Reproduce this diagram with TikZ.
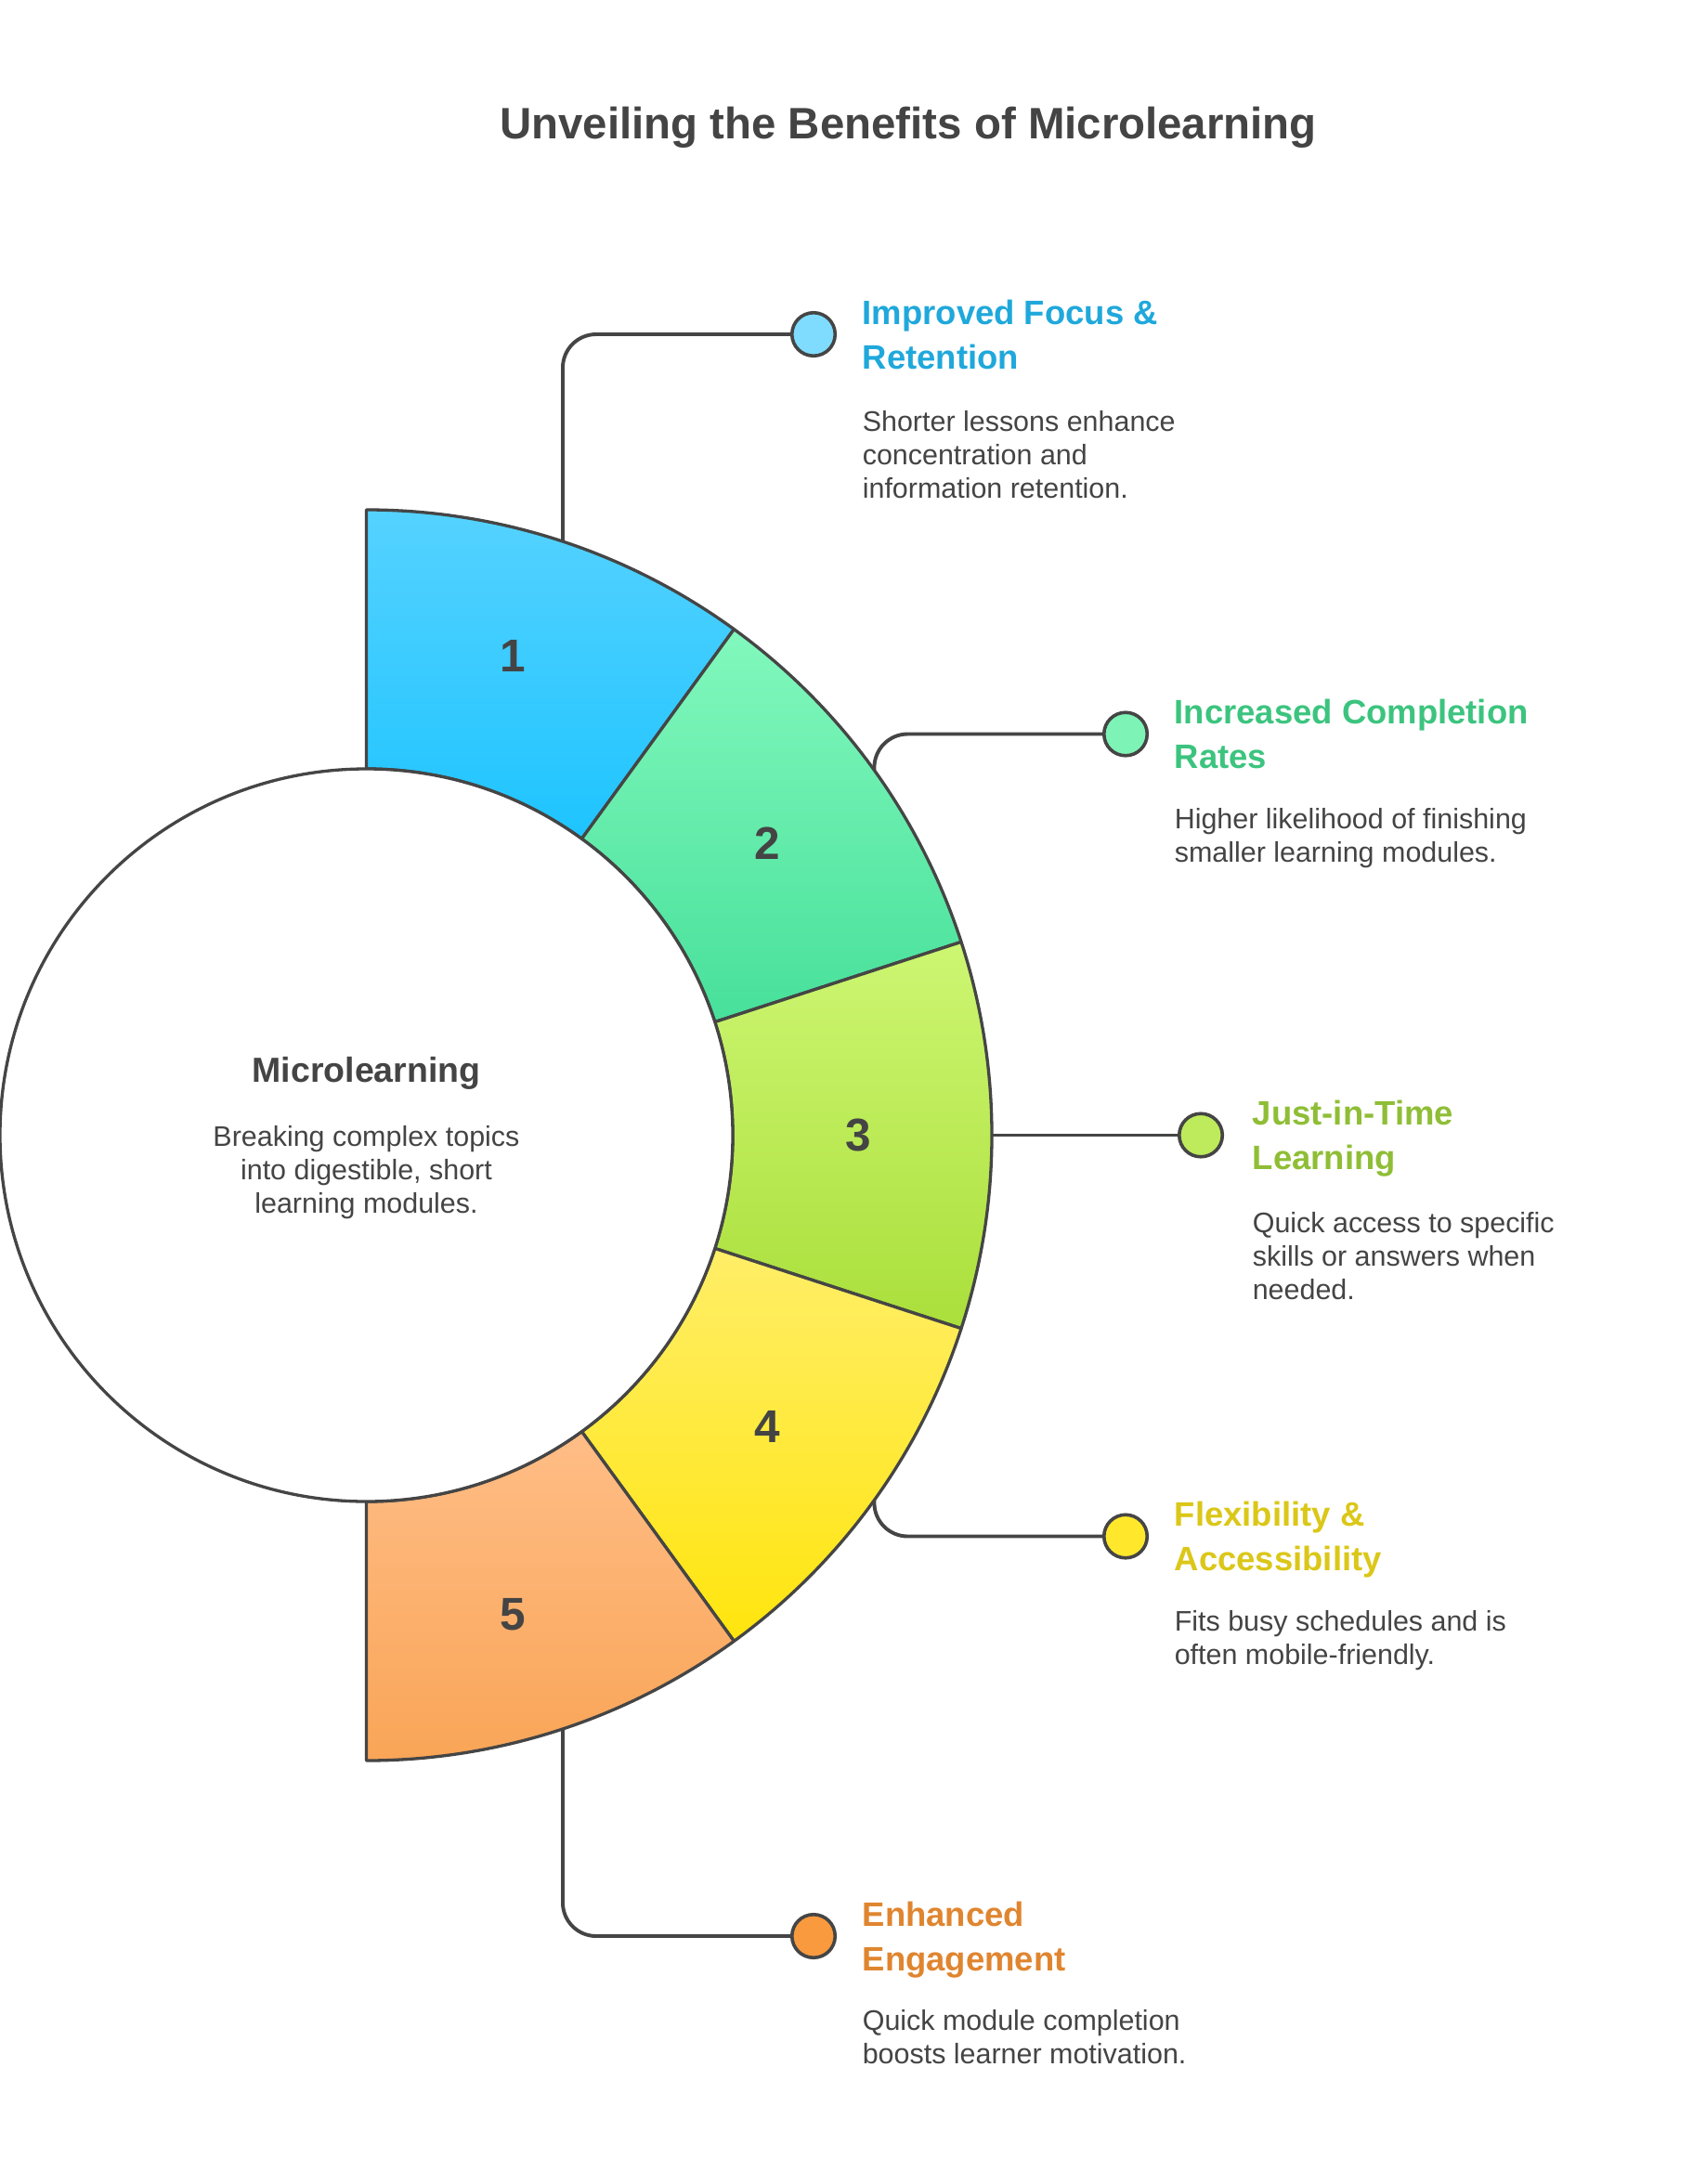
\documentclass[tikz,border=0pt]{standalone}
\usepackage{fontspec}
\setmainfont{Liberation Sans}
\usetikzlibrary{calc}

\definecolor{ink}{HTML}{454545}
\definecolor{txt}{HTML}{444444}
\definecolor{onetop}{HTML}{55D2FF}
\definecolor{onebot}{HTML}{1EC4FF}
\definecolor{onedot}{HTML}{7FDCFF}
\definecolor{onehead}{HTML}{1FA8DB}
\definecolor{twotop}{HTML}{82F8BD}
\definecolor{twobot}{HTML}{47E09A}
\definecolor{twodot}{HTML}{7DF4B6}
\definecolor{twohead}{HTML}{3CC47F}
\definecolor{threetop}{HTML}{CDF672}
\definecolor{threebot}{HTML}{AADF3B}
\definecolor{threedot}{HTML}{BDEB5B}
\definecolor{threehead}{HTML}{8FBE36}
\definecolor{fourtop}{HTML}{FFEE68}
\definecolor{fourbot}{HTML}{FFE50D}
\definecolor{fourdot}{HTML}{FFE82C}
\definecolor{fourhead}{HTML}{DBC718}
\definecolor{fivetop}{HTML}{FFBD86}
\definecolor{fivebot}{HTML}{F9A557}
\definecolor{fivedot}{HTML}{F99A3F}
\definecolor{fivehead}{HTML}{E0852F}

\begin{document}
\begin{tikzpicture}[x=1pt, y=1pt,
  seg/.style={draw=ink, line width=2.2pt, line join=round},
  conn/.style={draw=ink, line width=2.6pt, rounded corners=24pt},
  dot/.style={circle, draw=ink, line width=2.4pt, minimum size=31pt, inner sep=0pt},
  head/.style={anchor=north west, inner sep=0pt, align=left, font=\fontsize{24.3}{32}\selectfont\bfseries},
  body/.style={anchor=north west, inner sep=0pt, align=left, text=txt, font=\fontsize{20.3}{24}\selectfont},
  num/.style={text=txt, inner sep=0pt, font=\fontsize{33}{33}\selectfont\bfseries}]

\fill[white] (0,0) rectangle (1224,-1568);
\useasboundingbox (0,0) rectangle (1224,-1568);

\coordinate (c) at (263,-815);

% Heading
\node[anchor=base, text=txt, font=\fontsize{31.6}{32}\selectfont\bfseries] (title) at (652,-100)
  {Unveiling the Benefits of Microlearning};

%------------------------------------------------------
% dots
\node[dot, fill=onedot]   (d1) at (584,-240)  {};
\node[dot, fill=twodot]   (d2) at (808,-527)  {};
\node[dot, fill=threedot] (d3) at (862,-815)  {};
\node[dot, fill=fourdot]  (d4) at (808,-1103) {};
\node[dot, fill=fivedot]  (d5) at (584,-1390) {};

% connectors
\coordinate (s1) at ($(c)+(71.7:449)$);
\coordinate (s2) at ($(c)+(35.7:449)$);
\coordinate (s3) at ($(c)+(0:449)$);
\coordinate (s4) at ($(c)+(-35.7:449)$);
\coordinate (s5) at ($(c)+(-71.7:449)$);

\draw[conn] (s1) |- (d1);
\draw[conn] (s2) |- (d2);
\draw[conn] (s3) -- (d3);
\draw[conn] (s4) |- (d4);
\draw[conn] (s5) |- (d5);

% segments
\draw[seg, top color=onetop, bottom color=onebot]
  ($(c)+(90:449)$) arc[start angle=90, end angle=54, radius=449]
  -- ($(c)+(54:263)$) arc[start angle=54, end angle=90, radius=263] -- cycle;
\draw[seg, top color=twotop, bottom color=twobot]
  ($(c)+(54:449)$) arc[start angle=54, end angle=18, radius=449]
  -- ($(c)+(18:263)$) arc[start angle=18, end angle=54, radius=263] -- cycle;
\draw[seg, top color=threetop, bottom color=threebot]
  ($(c)+(18:449)$) arc[start angle=18, end angle=-18, radius=449]
  -- ($(c)+(-18:263)$) arc[start angle=-18, end angle=18, radius=263] -- cycle;
\draw[seg, top color=fourtop, bottom color=fourbot]
  ($(c)+(-18:449)$) arc[start angle=-18, end angle=-54, radius=449]
  -- ($(c)+(-54:263)$) arc[start angle=-54, end angle=-18, radius=263] -- cycle;
\draw[seg, top color=fivetop, bottom color=fivebot]
  ($(c)+(-54:449)$) arc[start angle=-54, end angle=-90, radius=449]
  -- ($(c)+(-90:263)$) arc[start angle=-90, end angle=-54, radius=263] -- cycle;

% numbers
\node[num] (n1) at ($(c)+(73:360)$)  {1};
\node[num] (n2) at ($(c)+(36:356)$)  {2};
\node[num] (n3) at ($(c)+(0:353)$)   {3};
\node[num] (n4) at ($(c)+(-36:356)$) {4};
\node[num] (n5) at ($(c)+(-73:360)$) {5};

% centre
\node[circle, draw=ink, line width=2.2pt, fill=white, minimum size=526pt, inner sep=0pt] (mc) at (c) {};
\node[anchor=north, inner sep=0pt, text=txt, font=\fontsize{25}{25}\selectfont\bfseries] (mchead) at (263,-759) {Microlearning};
\node[anchor=north, inner sep=0pt, align=center, text=txt, font=\fontsize{20.3}{24}\selectfont] (mcbody) at (263,-808)
  {Breaking complex topics\\into digestible, short\\learning modules.};

% -------- texts -----------
\node[head, text=onehead] (h1) at (619,-215) {Improved Focus \&\\Retention};
\node[body] (b1) at (619,-295) {Shorter lessons enhance\\concentration and\\information retention.};

\node[head, text=twohead] (h2) at (843,-502) {Increased Completion\\Rates};
\node[body] (b2) at (843,-580) {Higher likelihood of finishing\\smaller learning modules.};

\node[head, text=threehead] (h3) at (899,-790) {Just-in-Time\\Learning};
\node[body] (b3) at (899,-870) {Quick access to specific\\skills or answers when\\needed.};

\node[head, text=fourhead] (h4) at (843,-1078) {Flexibility \&\\Accessibility};
\node[body] (b4) at (843,-1156) {Fits busy schedules and is\\often mobile-friendly.};

\node[head, text=fivehead] (h5) at (619,-1365) {Enhanced\\Engagement};
\node[body] (b5) at (619,-1443) {Quick module completion\\boosts learner motivation.};

\end{tikzpicture}
\end{document}
